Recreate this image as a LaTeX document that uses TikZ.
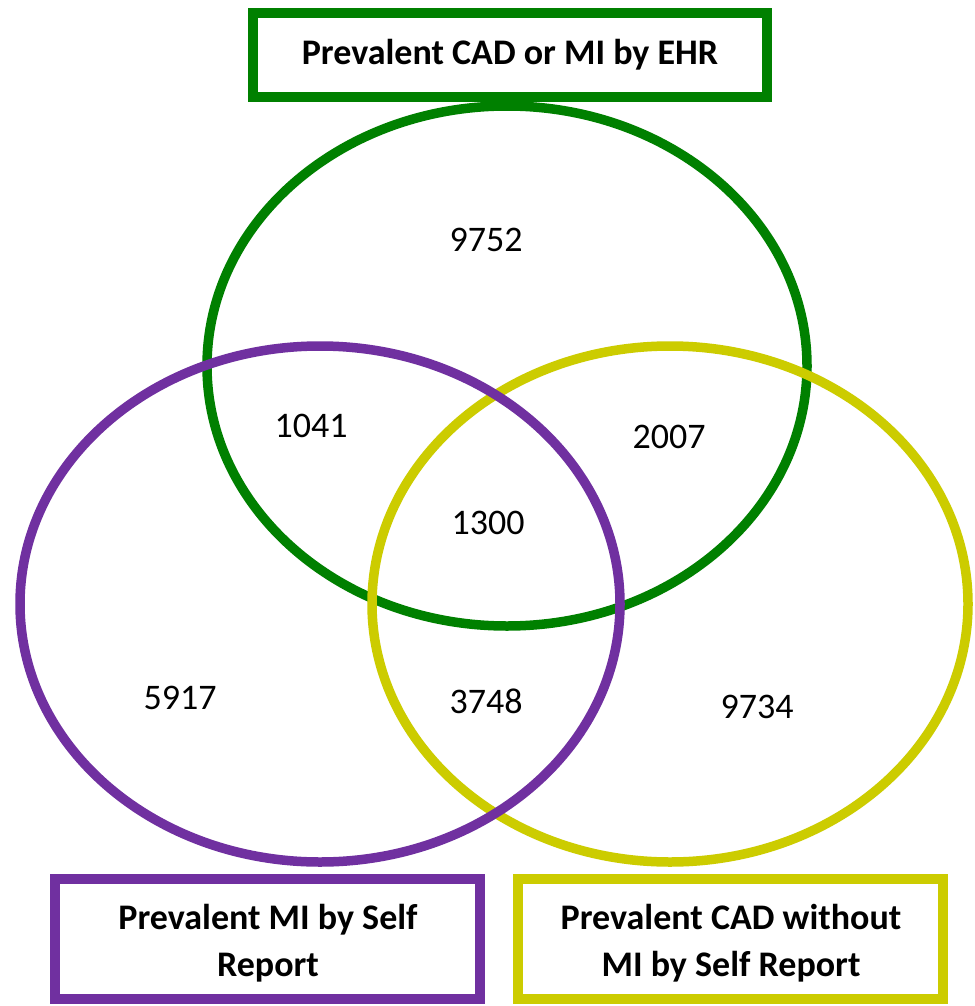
\documentclass[tikz,border=0pt]{standalone}
\usepackage{fontspec}
\setmainfont{Carlito}
\definecolor{ehrgreen}{RGB}{0,128,0}
\definecolor{mipurple}{RGB}{112,48,160}
\definecolor{cadyellow}{RGB}{204,204,0}
\begin{document}
\begin{tikzpicture}[x=1pt,y=-1pt,
  ring/.style={line width=9.5pt},
  labelbox/.style={draw, line width=9.5pt, fill=white, inner sep=0pt, align=center,
    font=\fontsize{36}{47}\selectfont\bfseries},
  count/.style={font=\fontsize{36}{40}\selectfont, inner sep=0pt}]
\useasboundingbox (0,0) rectangle (974,1006);
\fill[white] (0,0) rectangle (974,1006);
% ellipses
\draw[ring, ehrgreen] (507,366) ellipse [x radius=300pt, y radius=260pt];
\draw[ring, cadyellow] (670,604) ellipse [x radius=298pt, y radius=258pt];
\draw[ring, mipurple] (320,604) ellipse [x radius=300pt, y radius=258pt];
% boxes
\node[labelbox, draw=ehrgreen, minimum width=514pt, minimum height=84pt] (ehrbox) at (510,55) {Prevalent CAD or MI by EHR};
\node[labelbox, draw=mipurple, minimum width=425pt, minimum height=120pt] (mibox) at (267.5,939) {};
\node[labelbox, draw=cadyellow, minimum width=425pt, minimum height=120pt] (cadbox) at (730.5,939) {};
\node[labelbox, draw=none, fill=none] (mitext) at (268,943) {Prevalent MI by Self\\Report};
\node[labelbox, draw=none, fill=none] (cadtext) at (731,943) {Prevalent CAD without\\MI by Self Report};
% counts
\node[count] (n9752) at (486,240) {9752};
\node[count] (n1041) at (311,426) {1041};
\node[count] (n2007) at (669,437) {2007};
\node[count] (n1300) at (488,523) {1300};
\node[count] (n5917) at (180,698) {5917};
\node[count] (n3748) at (486,701) {3748};
\node[count] (n9734) at (757,707) {9734};
\end{tikzpicture}
\end{document}
